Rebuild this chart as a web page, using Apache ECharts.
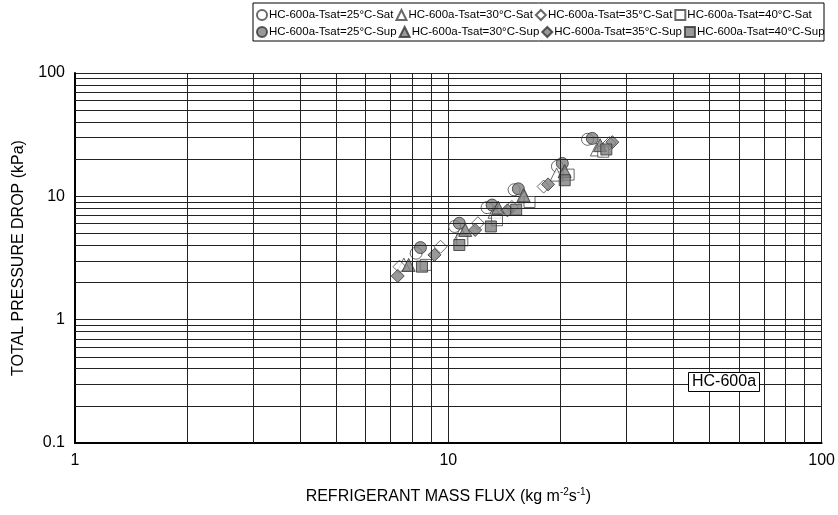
<!DOCTYPE html>
<html><head><meta charset="utf-8">
<script src="https://cdn.jsdelivr.net/npm/echarts@6/dist/echarts.min.js"></script>
<style>html,body{margin:0;padding:0;background:#fff}#c{width:838px;height:515px}</style>
</head><body><div id="c"></div>
<script>
const seriesNames = [
  'HC-600a-Tsat=25°C-Sat','HC-600a-Tsat=30°C-Sat','HC-600a-Tsat=35°C-Sat','HC-600a-Tsat=40°C-Sat',
  'HC-600a-Tsat=25°C-Sup','HC-600a-Tsat=30°C-Sup','HC-600a-Tsat=35°C-Sup','HC-600a-Tsat=40°C-Sup'
];
const sat25 = [[8.2,3.46],[10.4,5.7],[12.7,8.1],[15.0,11.3],[19.6,17.5],[23.6,29]];
const sat30 = [[7.6,2.8],[10.8,5.0],[13.3,7.5],[16.0,10],[19.5,15],[25,24]];
const sat35 = [[7.4,2.69],[9.53,3.9],[12.0,6.05],[14.8,8.2],[18,12],[27,27]];
const sat40 = [[8.7,2.78],[10.9,4.4],[13.5,6.4],[16.5,9],[21,15],[26,23]];
const sup25 = [[8.42,3.84],[10.7,6.05],[13.1,8.5],[15.4,11.5],[20.2,18.5],[24.3,29.5]];
const sup30 = [[7.83,2.78],[11.1,5.34],[13.6,8.1],[15.9,10.2],[20.5,16],[25.5,26]];
const sup35 = [[7.32,2.26],[9.18,3.35],[11.8,5.34],[14.4,7.7],[18.5,12.5],[27.5,27.5]];
const sup40 = [[8.5,2.69],[10.7,4.03],[13.0,5.7],[15.2,7.8],[20.5,13.5],[26.5,24]];
const xTicks = [1,10,100];
const yTicks = [0.1,1,10,100];

const allData = [sat25,sat30,sat35,sat40,sup25,sup30,sup35,sup40];
const symbols = ['circle','triangle','diamond','rect','circle','triangle','diamond','rect'];
const sizes = [12,13,13,11,12,13,13,11];

const xMinor = [], yMinor = [];
for (const d of [1,10]) for (let k=2;k<=9;k++) xMinor.push(k*d);
for (const d of [0.1,1,10]) for (let k=2;k<=9;k++) yMinor.push(+(k*d).toFixed(3));

const font = 'Liberation Sans, Arial, sans-serif';
const series = allData.map((d,i)=>({
  name: seriesNames[i], type:'scatter', data:d, symbol:symbols[i], symbolSize:sizes[i],
  itemStyle: i<4 ? {color:'#ffffff', borderColor:'#444', borderWidth:1}
                 : {color:'#808080', borderColor:'#333', borderWidth:1},
  z: i<4 ? 2 : 3
}));
series.push({
  type:'scatter', data:[], silent:true,
  markLine:{silent:true, symbol:'none', animation:false, label:{show:false},
    lineStyle:{color:'#222', width:1, type:'solid'},
    data: xMinor.map(v=>({xAxis:v})).concat(yMinor.map(v=>({yAxis:v})))
  }, z:1
});

const legendCommon = {left:256, width:600, padding:0, itemGap:2, itemWidth:10, itemHeight:10,
  textStyle:{fontSize:11.5, color:'#000', fontFamily:font, width:125, overflow:'none', padding:[0,0,0,-3]}};

const chart = echarts.init(document.getElementById('c'));
chart.setOption({
  animation:false,
  textStyle:{fontFamily:font},
  grid:{left:75, right:15, top:73, bottom:72, containLabel:false},
  xAxis:{type:'log', logBase:10, min:1, max:100,
    axisLine:{lineStyle:{color:'#000', width:2}},
    axisTick:{show:false},
    axisLabel:{color:'#000', fontSize:16, margin:10, fontFamily:font},
    splitLine:{show:true, lineStyle:{color:'#222', width:1}},
    name:'{a|REFRIGERANT MASS FLUX (kg m}{s|-2}{a|s}{s|-1}{a|)}',
    nameLocation:'middle', nameGap:44,
    nameTextStyle:{rich:{a:{fontSize:16, color:'#000', fontFamily:font, verticalAlign:'bottom'}, s:{fontSize:10, color:'#000', fontFamily:font, verticalAlign:'top', padding:[0,0,8,0]}}}
  },
  yAxis:{type:'log', logBase:10, min:0.1, max:100,
    axisLine:{lineStyle:{color:'#000', width:2}},
    axisTick:{show:false},
    axisLabel:{color:'#000', fontSize:16, margin:10, fontFamily:font},
    splitLine:{show:true, lineStyle:{color:'#222', width:1}},
    name:'TOTAL PRESSURE DROP (kPa)', nameLocation:'middle', nameGap:48,
    nameTextStyle:{fontSize:16, color:'#000', fontFamily:font}
  },
  legend:[
    Object.assign({data:seriesNames.slice(0,4), top:9}, legendCommon),
    Object.assign({data:seriesNames.slice(4), top:26}, legendCommon)
  ],
  title:{text:'HC-600a', left:688, top:372, padding:[2,4,2,4], borderWidth:1, borderColor:'#000',
    backgroundColor:'#fff', textStyle:{fontSize:16, fontWeight:'normal', color:'#000', fontFamily:font}},
  graphic:[{type:'rect', shape:{x:253, y:3, width:571, height:38}, style:{fill:null, stroke:'#000', lineWidth:1}}],
  series: series
});
</script></body></html>
